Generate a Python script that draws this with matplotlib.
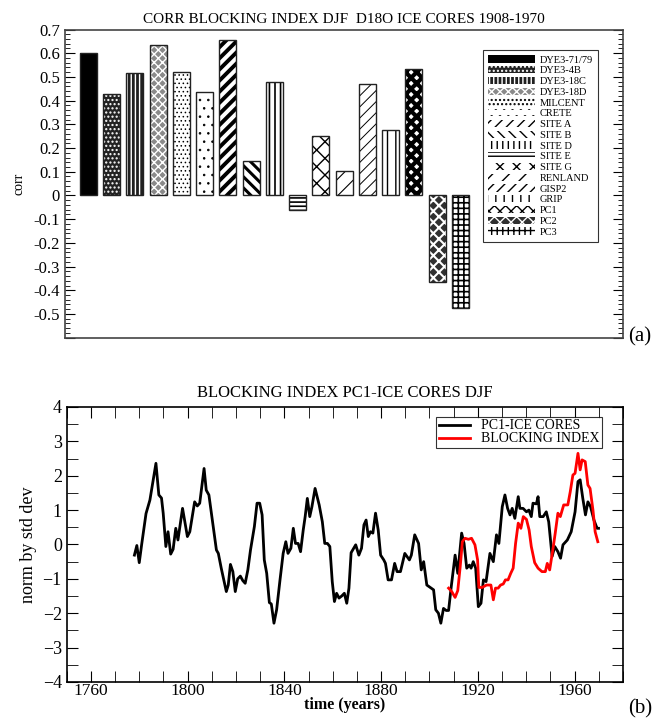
import matplotlib
matplotlib.use('Agg')
import matplotlib.pyplot as plt
from matplotlib.patches import Patch
from matplotlib.ticker import MultipleLocator, FuncFormatter

plt.rcParams['font.family'] = ['Liberation Serif', 'DejaVu Serif']
plt.rcParams['hatch.linewidth'] = 1.0

# --- panel (a): correlations
cores = ['DYE3-71/79', 'DYE3-4B', 'DYE3-18C', 'DYE3-18D', 'MILCENT', 'CRETE',
         'SITE A', 'SITE B', 'SITE D', 'SITE E', 'SITE G', 'RENLAND', 'GISP2',
         'GRIP', 'PC1', 'PC2', 'PC3']
corr = [0.60, 0.43, 0.515, 0.635, 0.52, 0.435, 0.655, 0.145, 0.48, -0.063,
        0.252, 0.104, 0.472, 0.276, 0.535, -0.363, -0.475]
# face colour, hatch colour, hatch pattern, hatch line width
faces = ['black', '#222222', '#202020', '#8a8a8a', 'white', 'white', 'white',
         'white', 'white', 'white', 'white', 'white', 'white', 'white', 'white',
         '#303030', 'white']
hcols = ['black', 'white', 'white', 'white', 'black', 'black', 'black', 'black',
         'black', 'black', 'black', 'black', 'black', 'black', 'black', 'white',
         'black']
hatches = ['', '....', '||||', 'xxxx', '....', '..', '///', '\\\\\\', '|||',
           '----', 'xx', '//', '///', '||', 'xxx', 'xxx', '+++']
hlw = [1.0, 1.0, 1.0, 1.0, 0.6, 0.6, 2.8, 2.2, 1.2, 1.2, 1.0, 0.8, 0.7, 1.0,
       3.0, 1.5, 1.2]

# --- panel (b): time series
pc1_years = [1778, 1779, 1780, 1781, 1782.8, 1784.4, 1786.9, 1788.1, 1789.2, 1789.9,
             1791, 1791.9, 1793, 1794, 1795.1, 1796, 1797.9, 1799.9, 1800.9, 1802.9,
             1804, 1805, 1806.8, 1807.7, 1808.8, 1810.2, 1811.9, 1812.7, 1813.9, 1816,
             1816.8, 1817.7, 1818.7, 1819.7, 1820.7, 1821.8, 1822.8, 1823.8, 1824.9, 1826,
             1827.6, 1828.7, 1829.8, 1830.8, 1831.7, 1832.7, 1833.8, 1834.6, 1835.7, 1836.8,
             1838.2, 1839.5, 1840.6, 1841.5, 1842.7, 1843.7, 1844.6, 1845.7, 1846.7, 1847.8,
             1848.6, 1849.5, 1850.5, 1851.4, 1852.7, 1854.4, 1855.7, 1856.7, 1857.8, 1858.8,
             1859.8, 1860.7, 1861.6, 1862.6, 1863.7, 1864.8, 1865.8, 1866.7, 1867.6, 1869.5,
             1870.8, 1871.9, 1872.9, 1873.8, 1874.7, 1875.6, 1876.6, 1877.7, 1878.8, 1879.8,
             1881.1, 1881.8, 1882.9, 1884.3, 1885.6, 1886.6, 1888, 1889.8, 1891.7, 1892.5,
             1893.9, 1895.5, 1896.6, 1897.6, 1898.9, 1900.3, 1901.7, 1902.6, 1903.7, 1904.7,
             1905.8, 1906.9, 1907.9, 1909, 1910.6, 1911.7, 1913.3, 1914.3, 1915.4, 1916.5,
             1917.2, 1918.1, 1919.1, 1920.2, 1921.3, 1922.3, 1923.4, 1925, 1926.4, 1927.7,
             1928.7, 1930.1, 1931.2, 1932.3, 1933.3, 1934.2, 1935.3, 1936.7, 1937.4, 1938.7,
             1940.1, 1941.1, 1942.1, 1942.8, 1944.2, 1944.9, 1945.6, 1947, 1948.3, 1949.3,
             1950.7, 1951.8, 1953.1, 1954.2, 1955.2, 1957, 1958.6, 1960.2, 1961.4, 1962.3,
             1963.4, 1964.5, 1965.5, 1966.6, 1968, 1969.3, 1969.9]
pc1_vals = [-0.31, -0.03, -0.53, 0.0, 0.9, 1.29, 2.36, 1.44, 1.35, 0.91,
            -0.06, 0.37, -0.28, -0.14, 0.47, 0.13, 1.05, 0.23, 0.37, 1.24,
            1.12, 1.2, 2.21, 1.58, 1.44, 0.71, -0.16, -0.26, -0.69, -1.37,
            -1.18, -0.58, -0.79, -1.37, -1.0, -0.92, -1.05, -1.13, -0.74, -0.16,
            0.52, 1.2, 1.2, 0.86, -0.45, -0.84, -1.69, -1.73, -2.29, -1.9,
            -1.03, -0.26, 0.08, -0.26, -0.11, 0.47, 0.03, 0.03, -0.21, 0.42,
            0.81, 1.34, 0.81, 1.1, 1.63, 1.15, 0.66, 0.03, 0.03, -0.06,
            -1.08, -1.66, -1.42, -1.56, -1.5, -1.42, -1.71, -1.27, -0.24, -0.01,
            -0.31, -0.11, 0.57, 0.71, 0.23, 0.37, 0.33, 0.91, 0.42, -0.31,
            -0.45, -0.55, -1.03, -1.03, -0.55, -0.79, -0.79, -0.26, -0.45, -0.31,
            0.28, 0.03, -0.74, -0.5, -1.18, -1.25, -1.32, -1.9, -2.0, -2.29,
            -1.86, -1.92, -1.92, -1.23, -0.31, -0.84, 0.33, 0.03, -0.69, -0.6,
            -0.69, -0.5, -0.69, -1.81, -1.71, -1.03, -1.08, -0.26, -0.5, 0.28,
            0.03, 1.1, 1.44, 1.05, 0.86, 1.05, 0.76, 1.39, 1.05, 1.05,
            0.95, 1.0, 0.81, 1.2, 1.18, 1.39, 0.81, 0.81, 0.95, 0.66,
            -0.35, -0.06, -0.21, -0.4, -0.01, 0.13, 0.37, 0.95, 1.83, 1.88,
            1.34, 0.86, 1.24, 1.1, 0.71, 0.47, 0.47]
blk_years = [1907.9, 1909.2, 1910.6, 1911.7, 1912.7, 1913.6, 1914.7, 1916.1, 1917.4, 1918.8,
             1919.9, 1920.4, 1921.8, 1923.6, 1925.4, 1926.4, 1927.3, 1928.4, 1929.4, 1930.5,
             1931.4, 1932.5, 1933.6, 1934.6, 1935.6, 1936.7, 1937.8, 1938.8, 1940.1, 1941.2,
             1942.1, 1943.5, 1944.9, 1946.5, 1947.9, 1948.7, 1949.7, 1951.1, 1952, 1953.1,
             1954.1, 1955.5, 1957.2, 1958.2, 1959.3, 1960.2, 1961.4, 1962.3, 1963.1, 1964.4,
             1965.5, 1966.4, 1967.6, 1968.5, 1969.6]
blk_vals = [-1.27, -1.37, -1.54, -1.34, -0.65, 0.08, 0.18, 0.15, 0.18, -0.01,
            -0.45, -1.25, -1.25, -1.18, -1.18, -1.61, -1.27, -1.27, -1.18, -1.15,
            -1.03, -1.03, -0.84, -0.69, 0.03, 0.62, 0.47, 0.81, 0.73, 0.42,
            -0.06, -0.53, -0.69, -0.79, -0.79, -0.55, -0.74, -0.11, 0.33, 0.91,
            0.81, 1.15, 1.15, 1.53, 2.02, 2.07, 2.65, 2.17, 2.46, 2.41,
            1.73, 1.63, 1.0, 0.37, 0.08]

fig = plt.figure(figsize=(6.63, 7.2), dpi=100)

# ---------------- (a)
ax1 = fig.add_axes([0.098, 0.531, 0.842, 0.428])
xpos = list(range(1, len(corr) + 1))
handles = []
for x, v, fc, hc, h, lw, name in zip(xpos, corr, faces, hcols, hatches, hlw, cores):
    with plt.rc_context({'hatch.linewidth': lw}):
        bars = ax1.bar(x, v, 0.73, color=fc, edgecolor=hc, hatch=h, linewidth=0)
        p = Patch(facecolor=fc, edgecolor=hc, hatch=h, label=name, linewidth=0)
    for b in list(bars) + [p]:
        if hasattr(b, 'set_hatch_linewidth'):
            b.set_hatch_linewidth(lw)
    ax1.bar(x, v, 0.73, fill=False, edgecolor='#222222', linewidth=1.0)
    handles.append(p)
ax1.set_xlim(0, 24)
ax1.set_ylim(-0.6, 0.7)
ax1.set_xticks([])
ax1.yaxis.set_major_locator(MultipleLocator(0.1))
ax1.yaxis.set_minor_locator(MultipleLocator(0.02))
ax1.yaxis.set_major_formatter(FuncFormatter(lambda v, p: '%g' % round(v, 2) if v > -0.55 else ''))
ax1.tick_params(axis='y', which='both', direction='in', left=True, right=True, labelsize=12)
ax1.tick_params(axis='y', which='major', length=7)
ax1.tick_params(axis='y', which='minor', length=3.5)
ax1.set_ylabel('corr', fontsize=10, labelpad=6)
ax1.set_title('CORR BLOCKING INDEX DJF  D18O ICE CORES 1908-1970', fontsize=11, pad=5)
leg1 = ax1.legend(handles=handles, loc='upper right', bbox_to_anchor=(0.965, 0.95),
                  fontsize=7.5, frameon=True, fancybox=False, edgecolor='black',
                  handlelength=4.5, handleheight=0.7, labelspacing=0.14,
                  handletextpad=0.5, borderpad=0.5)
leg1.get_frame().set_linewidth(0.8)
for sp in ax1.spines.values():
    sp.set_linewidth(1.2)
    sp.set_color('#444444')
fig.text(0.948, 0.532, '(a)', fontsize=15, ha='left', va='center')

# ---------------- (b)
ax2 = fig.add_axes([0.1006, 0.0528, 0.839, 0.382])
ax2.plot(pc1_years, pc1_vals, color='black', linewidth=2, label='PC1-ICE CORES')
ax2.plot(blk_years, blk_vals, color='red', linewidth=2, label='BLOCKING INDEX')
ax2.set_xlim(1750, 1980)
ax2.set_ylim(-4, 4)
ax2.xaxis.set_major_locator(MultipleLocator(40))
ax2.xaxis.set_minor_locator(MultipleLocator(10))
ax2.yaxis.set_major_locator(MultipleLocator(1))
ax2.yaxis.set_minor_locator(MultipleLocator(0.5))
ax2.tick_params(which='both', direction='in', top=True, right=True, labelsize=13)
ax2.tick_params(axis='x', which='both', pad=1, labelsize=12.5)
ax2.tick_params(which='major', length=8)
ax2.tick_params(which='minor', length=8)
ax2.set_xlabel('time (years)', fontsize=11.5, fontweight='bold', labelpad=-1.5)
ax2.set_ylabel('norm by std dev', fontsize=13, labelpad=4)
ax2.set_title('BLOCKING INDEX PC1-ICE CORES DJF', fontsize=12, pad=7)
leg2 = ax2.legend(loc='upper right', bbox_to_anchor=(0.975, 0.99), fontsize=10,
                  frameon=True, fancybox=False, edgecolor='black', handlelength=2.2,
                  labelspacing=0.0, borderpad=0.2)
leg2.get_frame().set_linewidth(0.8)
for sp in ax2.spines.values():
    sp.set_linewidth(1.2)
fig.text(0.948, 0.016, '(b)', fontsize=15, ha='left', va='center')

fig.savefig('out.png', dpi=100)
